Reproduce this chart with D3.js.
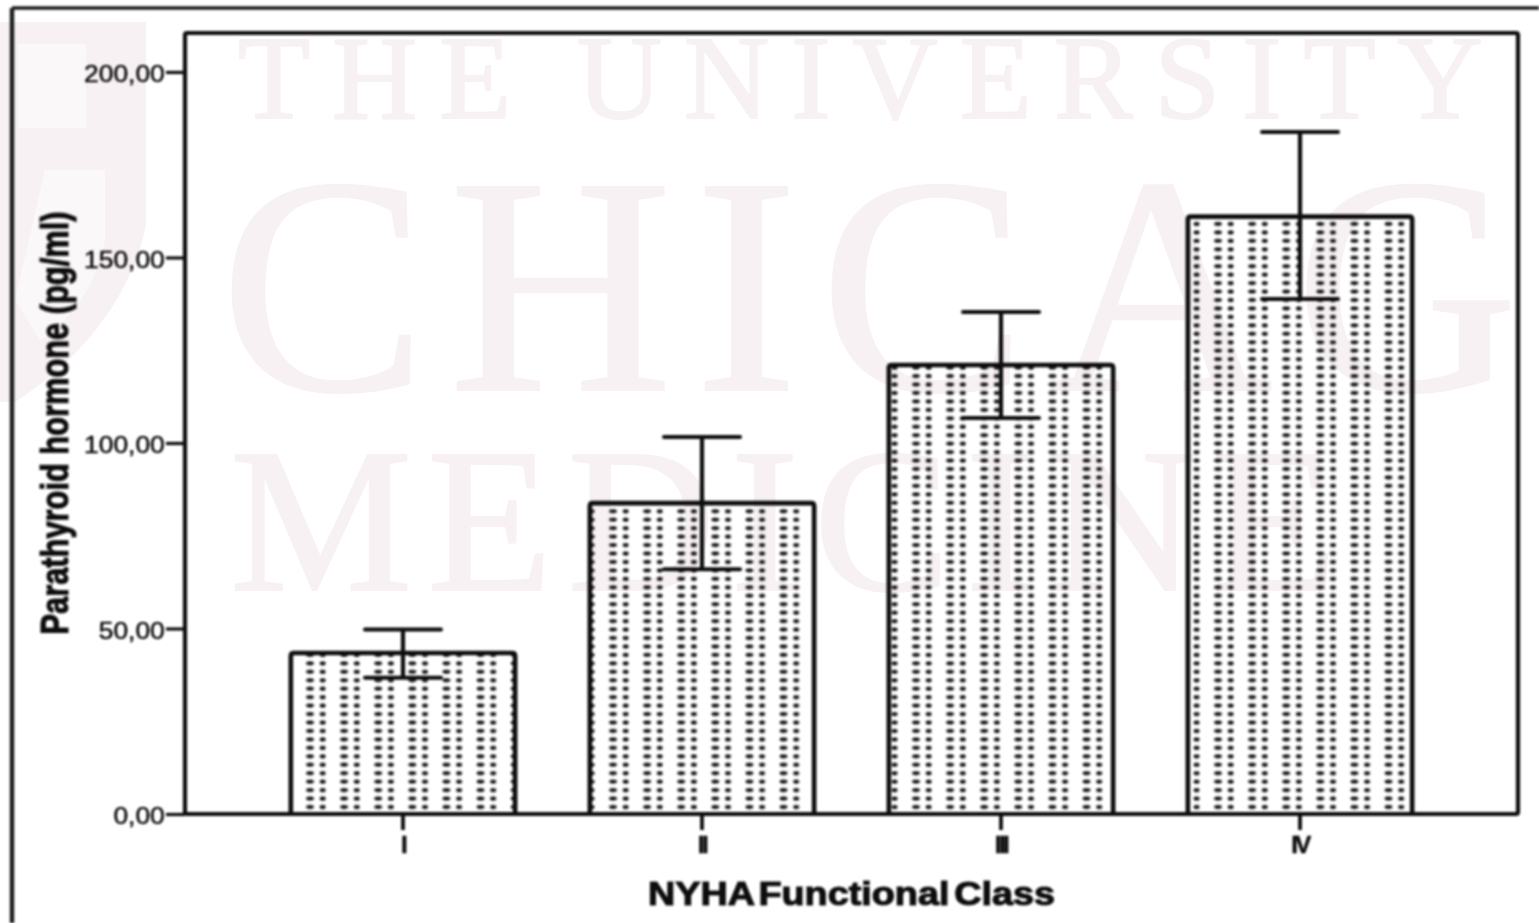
<!DOCTYPE html>
<html>
<head>
<meta charset="utf-8">
<title>Parathyroid hormone by NYHA class</title>
<script src="https://cdn.jsdelivr.net/npm/d3@7"></script>
<style>
  html, body { margin: 0; padding: 0; background: #fff; overflow: hidden; }
  svg { display: block; }
  text { font-family: "Liberation Sans", Arial, sans-serif; fill: #111; stroke: #111; stroke-width: 0.5; }
  text.title { stroke-width: 1.1; }
  .mark text { font-family: "Liberation Serif", serif; fill: #f7f1f3; stroke: #f7f1f3; stroke-width: 2; }
</style>
</head>
<body>
<div id="chart"></div>
<script>
// values
const classes = ['I', 'II', 'III', 'IV'];
const means = [43.4, 83.8, 121, 161];
const upper = [49.7, 101.6, 135.3, 183.8];
const lower = [36.7, 66, 106.7, 138.8];
const yTicks = [0, 50, 100, 150, 200];

const width = 1539, height = 923;
const plot = { left: 185, top: 33, right: 1518, bottom: 814 };

// first dot column of each bar, the hatch does not line up between bars
const hatchStart = [310, 613, 916, 1218];

const svg = d3.select('#chart').append('svg')
  .attr('width', width)
  .attr('height', height);

const defs = svg.append('defs');
defs.append('filter').attr('id', 'soft')
  .attr('filterUnits', 'userSpaceOnUse')
  .attr('x', 0).attr('y', 0).attr('width', width).attr('height', height)
  .append('feGaussianBlur').attr('stdDeviation', 0.8);

hatchStart.forEach((start, i) => {
  const tileH = 8.45;
  const p = defs.append('pattern')
    .attr('id', `dots${i}`)
    .attr('patternUnits', 'userSpaceOnUse')
    .attr('x', start - 4.5)
    .attr('y', 807 - tileH / 2)
    .attr('width', 34.1)
    .attr('height', tileH);
  p.append('ellipse').attr('cx', 4.5).attr('cy', tileH / 2)
    .attr('rx', 3.9).attr('ry', 2).attr('fill', '#1c1c1c');
  p.append('ellipse').attr('cx', 17.2).attr('cy', tileH / 2)
    .attr('rx', 3).attr('ry', 2.2).attr('fill', '#1c1c1c');
});

// pale watermark behind the chart
const mark = svg.append('g').attr('class', 'mark');
mark.append('path')
  .attr('d', 'M0,22 L146,22 L146,225 C130,300 80,360 15,402 L0,402 Z')
  .attr('fill', '#f7f1f3');
mark.append('path')
  .attr('d', 'M18,44 L86,44 L86,128 L18,128 Z M45,170 L105,170 L105,240 C95,290 70,320 40,340 L15,300 Z')
  .attr('fill', '#fbf8f9');
const markLines = [
  { text: 'THE UNIVERSITY OF', x: 238, y: 118, size: 118, gap: 22, word: -8 },
  { text: 'CHICAGO', x: 220, y: 390, size: 310, gap: 22, word: 0 },
  { text: 'MEDICINE', x: 230, y: 590, size: 205, gap: 15, word: 0 }
];
mark.selectAll('text').data(markLines).enter().append('text')
  .attr('x', d => d.x)
  .attr('y', d => d.y)
  .attr('font-size', d => d.size)
  .attr('letter-spacing', d => d.gap)
  .attr('word-spacing', d => d.word)
  .text(d => d.text);

const x = d3.scaleBand()
  .domain(classes)
  .range([plot.left, plot.right])
  .paddingInner(0.25)
  .paddingOuter(0.354);

const y = d3.scaleLinear()
  .domain([0, 210.5])
  .range([plot.bottom, plot.top]);

const comma = d3.formatLocale({ decimal: ',', thousands: '.', grouping: [3], currency: ['', ''] });

const g = svg.append('g').attr('filter', 'url(#soft)');

// outer image border, only top and left
g.append('line').attr('x1', 12).attr('x2', width).attr('y1', 8).attr('y2', 8)
  .attr('stroke', '#1a1a1a').attr('stroke-width', 3.6);
g.append('line').attr('x1', 12).attr('x2', 12).attr('y1', 8).attr('y2', height)
  .attr('stroke', '#1a1a1a').attr('stroke-width', 4.4);

g.append('rect')
  .attr('x', plot.left).attr('y', plot.top)
  .attr('width', plot.right - plot.left)
  .attr('height', plot.bottom - plot.top)
  .attr('rx', 2)
  .attr('fill', 'none')
  .attr('stroke', '#0c0c0c')
  .attr('stroke-width', 4.2);

const bars = g.selectAll('.bar').data(classes).enter().append('g').attr('class', 'bar');

bars.append('rect')
  .attr('x', d => x(d))
  .attr('y', (d, i) => y(means[i]))
  .attr('width', x.bandwidth())
  .attr('height', (d, i) => y(0) - y(means[i]))
  .attr('fill', (d, i) => `url(#dots${i})`);

bars.append('path')
  .attr('d', (d, i) => {
    const l = x(d), r = l + x.bandwidth(), t = y(means[i]), b = y(0);
    return `M${l},${b}V${t + 3}Q${l},${t} ${l + 3},${t}H${r - 3}Q${r},${t} ${r},${t + 3}V${b}`;
  })
  .attr('fill', 'none')
  .attr('stroke', '#0c0c0c')
  .attr('stroke-width', 4.6);

// error bars
const capHalf = 38;
const cx = d => x(d) + x.bandwidth() / 2;
bars.append('line')
  .attr('x1', cx).attr('x2', cx)
  .attr('y1', (d, i) => y(upper[i]))
  .attr('y2', (d, i) => y(lower[i]))
  .attr('stroke', '#0c0c0c').attr('stroke-width', 4.2);
[upper, lower].forEach(vals => {
  bars.append('line')
    .attr('x1', d => cx(d) - capHalf).attr('x2', d => cx(d) + capHalf)
    .attr('y1', (d, i) => y(vals[i]))
    .attr('y2', (d, i) => y(vals[i]))
    .attr('stroke', '#0c0c0c').attr('stroke-width', 4)
    .attr('stroke-linecap', 'round');
});

// axes
const yAxis = g.append('g')
  .attr('transform', `translate(${plot.left},0)`)
  .call(d3.axisLeft(y).tickValues(yTicks).tickSize(19).tickFormat(comma.format('.2f')));
yAxis.select('.domain').remove();
yAxis.selectAll('line').attr('stroke', '#111').attr('stroke-width', 3.2);
yAxis.selectAll('text')
  .attr('font-size', 24)
  .attr('x', -18.4)
  .attr('dy', '0.4em')
  .attr('transform', 'scale(1.1,1)');

const xAxis = g.append('g')
  .attr('transform', `translate(0,${plot.bottom})`)
  .call(d3.axisBottom(x).tickSize(16));
xAxis.select('.domain').remove();
xAxis.selectAll('line').attr('stroke', '#111').attr('stroke-width', 3.8);
xAxis.selectAll('text')
  .attr('font-size', 24)
  .attr('font-weight', 'bold')
  .attr('y', 21)
  .attr('dy', 0)
  .attr('dominant-baseline', 'hanging')
  .attr('letter-spacing', -2.5);

g.append('text')
  .attr('class', 'title')
  .attr('x', 851.5)
  .attr('y', 905)
  .attr('text-anchor', 'middle')
  .attr('font-size', 33)
  .attr('font-weight', 'bold')
  .attr('word-spacing', -5)
  .attr('textLength', 407)
  .attr('lengthAdjust', 'spacingAndGlyphs')
  .text('NYHA Functional Class');

g.append('text')
  .attr('class', 'title')
  .attr('transform', 'translate(68,423) rotate(-90)')
  .attr('text-anchor', 'middle')
  .attr('font-size', 38)
  .attr('font-weight', 'bold')
  .attr('textLength', 423)
  .attr('lengthAdjust', 'spacingAndGlyphs')
  .text('Parathyroid hormone (pg/ml)');
</script>
</body>
</html>
